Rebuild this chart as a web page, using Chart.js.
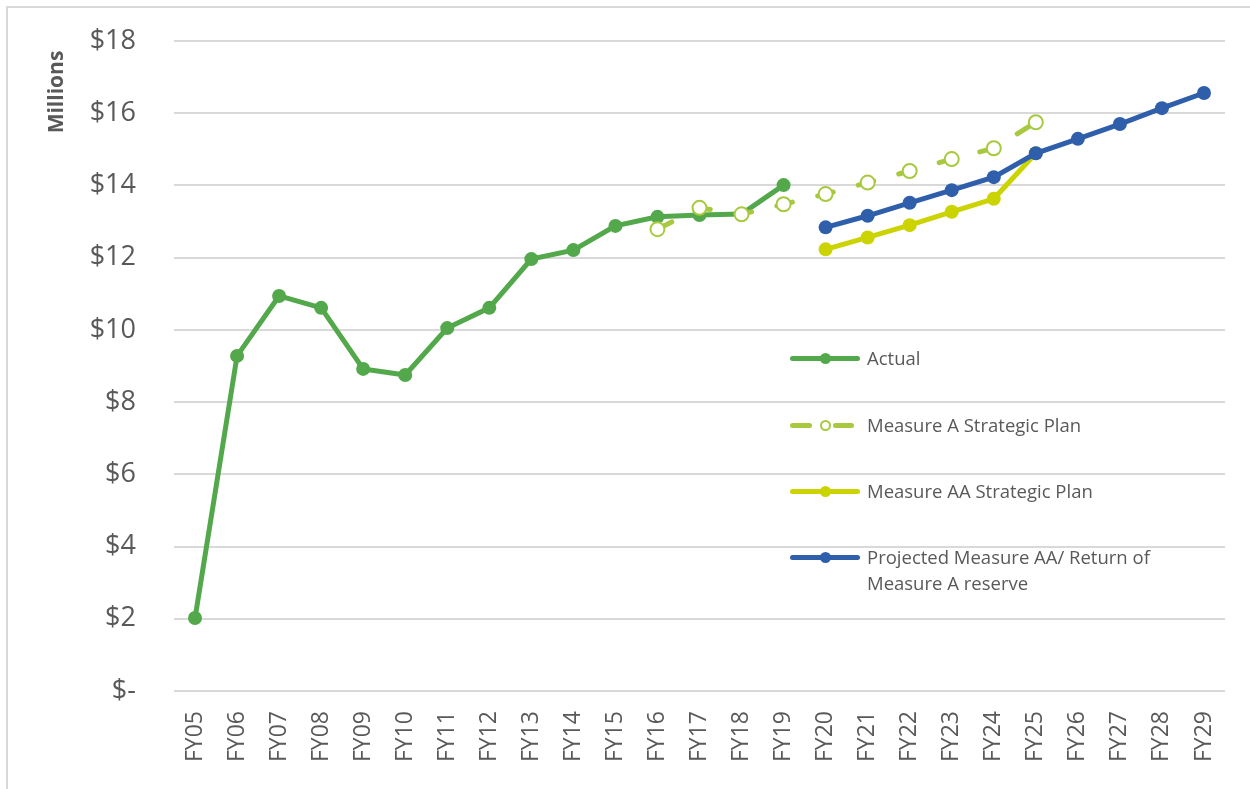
<!DOCTYPE html>
<html>
	<head>
		<meta charset="UTF-8">
		<title></title>
		<script src="https://cdn.jsdelivr.net/npm/chart.js@4/dist/chart.umd.min.js"></script>
		<style type="text/css">
			*{
				margin: 0;
				padding: 0;
			}
			body{
				width: 1250px;
				height: 789px;
				overflow: hidden;
				position: relative;
				background: white;
				font-family: "Open Sans", sans-serif;
			}
			#frame{
				position: absolute;
				left: 6px;
				top: 6px;
				width: 1300px;
				height: 820px;
				border: 2px solid #d9d9d9;
			}
			#wrap{
				position: absolute;
				left: 0;
				top: 0;
				width: 1250px;
				height: 789px;
			}
			#legend .item{
				position: absolute;
				left: 790px;
				height: 30px;
				width: 400px;
			}
			#legend .line{
				position: absolute;
				top: -2.5px;
				height: 5px;
				border-radius: 3px;
			}
			#legend .dot{
				position: absolute;
				left: 30px;
				top: -5.5px;
				width: 11px;
				height: 11px;
				border-radius: 50%;
				box-sizing: border-box;
			}
			#legend .txt{
				position: absolute;
				left: 77px;
				top: -13px;
				font-size: 18.5px;
				line-height: 26px;
				color: #595959;
				white-space: nowrap;
			}
		</style>
	</head>
	<body>
		<div id="frame"></div>
		<div id="wrap"><canvas id="fundChart" width="1250" height="789"></canvas></div>
		<div id="legend">
			<div class="item" style="top:358px">
				<div class="line" style="left:0;width:70px;background:#52a84b"></div>
				<div class="dot" style="background:#52a84b"></div>
				<div class="txt">Actual</div>
			</div>
			<div class="item" style="top:425px">
				<div class="line" style="left:0;width:22px;background:#a8c93f"></div>
				<div class="line" style="left:43px;width:21px;background:#a8c93f"></div>
				<div class="dot" style="background:white;border:2px solid #a8c93f"></div>
				<div class="txt">Measure A Strategic Plan</div>
			</div>
			<div class="item" style="top:491px">
				<div class="line" style="left:0;width:70px;background:#cbd300"></div>
				<div class="dot" style="background:#cbd300"></div>
				<div class="txt">Measure AA Strategic Plan</div>
			</div>
			<div class="item" style="top:557px">
				<div class="line" style="left:0;width:70px;background:#2f5fab"></div>
				<div class="dot" style="background:#2f5fab"></div>
				<div class="txt">Projected Measure AA/ Return of<br>Measure A reserve</div>
			</div>
		</div>

		<script type="text/javascript">
			var years=["FY05","FY06","FY07","FY08","FY09","FY10","FY11","FY12","FY13","FY14","FY15","FY16","FY17","FY18","FY19","FY20","FY21","FY22","FY23","FY24","FY25","FY26","FY27","FY28","FY29"];
			var actual=[2.02,9.28,10.94,10.61,8.92,8.75,10.05,10.61,11.96,12.21,12.88,13.13,13.18,13.21,14.01,null,null,null,null,null,null,null,null,null,null];
			var measureA=[null,null,null,null,null,null,null,null,null,null,null,12.79,13.38,13.20,13.48,13.76,14.08,14.40,14.73,15.03,15.75,null,null,null,null];
			var measureAA=[null,null,null,null,null,null,null,null,null,null,null,null,null,null,null,12.23,12.56,12.90,13.27,13.63,14.89,null,null,null,null];
			var projected=[null,null,null,null,null,null,null,null,null,null,null,null,null,null,null,12.84,13.16,13.52,13.87,14.23,14.89,15.29,15.70,16.14,16.56];

			var grey="#595959";
			var font="'Open Sans', sans-serif";

			// axis title sits at the top of the axis, like the excel original
			var unitTitle={
				id:"unitTitle",
				afterDraw:function(chart){
					var g=chart.ctx;
					g.save();
					g.translate(57,92);
					g.rotate(-Math.PI/2);
					g.font="bold 21px "+font;
					g.fillStyle=grey;
					g.textAlign="center";
					g.textBaseline="middle";
					g.fillText("Millions",0,0);
					g.restore();
				}
			};

			var ctx=document.getElementById("fundChart").getContext("2d");
			new Chart(ctx,{
				type:"line",
				data:{
					labels:years,
					datasets:[
						{
							label:"Projected Measure AA/ Return of Measure A reserve",
							data:projected,
							borderColor:"#2f5fab",
							backgroundColor:"#2f5fab",
							borderWidth:5,
							pointRadius:7,
							pointBorderWidth:0,
							order:0
						},
						{
							label:"Measure A Strategic Plan",
							data:measureA,
							borderColor:"#a8c93f",
							backgroundColor:"white",
							borderWidth:5,
							borderDash:[16,26],
							borderCapStyle:"round",
							pointRadius:7,
							pointBorderWidth:2,
							pointBorderColor:"#a8c93f",
							pointBackgroundColor:"white",
							order:1
						},
						{
							label:"Measure AA Strategic Plan",
							data:measureAA,
							borderColor:"#cbd300",
							backgroundColor:"#cbd300",
							borderWidth:5,
							pointRadius:7,
							pointBorderWidth:0,
							order:2
						},
						{
							label:"Actual",
							data:actual,
							borderColor:"#52a84b",
							backgroundColor:"#52a84b",
							borderWidth:5,
							pointRadius:7,
							pointBorderWidth:0,
							order:3
						}
					]
				},
				options:{
					responsive:false,
					animation:false,
					layout:{padding:{left:0,right:25,top:41,bottom:0}},
					plugins:{
						legend:{display:false},
						tooltip:{enabled:false}
					},
					scales:{
						x:{
							offset:true,
							grid:{display:false,drawTicks:false},
							border:{display:false},
							ticks:{
								color:grey,
								font:{family:font,size:23},
								minRotation:90,
								maxRotation:90,
								padding:20,
								autoSkip:false
							},
							afterFit:function(s){ s.height=98; s.paddingLeft=0; s.paddingRight=0; s.paddingTop=0; s.paddingBottom=0; }
						},
						y:{
							min:0,
							max:18,
							grid:{color:"#d9d9d9",lineWidth:2,drawTicks:false},
							border:{display:false},
							ticks:{
								stepSize:2,
								color:grey,
								font:{family:font,size:27},
								padding:38,
								callback:function(v){ return v==0?"$-":"$"+v; }
							},
							afterFit:function(s){ s.width=174; s.paddingLeft=0; s.paddingRight=0; s.paddingTop=0; s.paddingBottom=0; }
						}
					}
				},
				plugins:[unitTitle]
			});
		</script>
	</body>
</html>
